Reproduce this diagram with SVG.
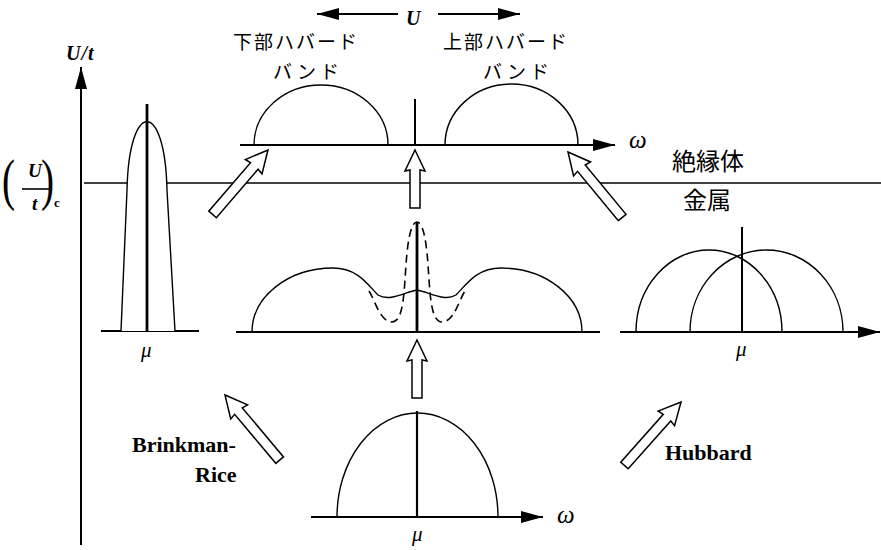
<svg xmlns="http://www.w3.org/2000/svg" width="881" height="550" viewBox="0 0 881 550">
<style>
.ln{fill:none;stroke:#000;stroke-width:1.4}
.base{fill:none;stroke:#000;stroke-width:2}
.thick{fill:none;stroke:#000;stroke-width:2.8}
.dash{fill:none;stroke:#000;stroke-width:1.6;stroke-dasharray:8 5}
.hol{fill:#fff;stroke:#000;stroke-width:1.5;stroke-linejoin:miter}
.it{font-family:"Liberation Serif",serif;font-style:italic;font-size:21px;fill:#000}
.om{font-family:"Liberation Serif",serif;font-style:italic;font-size:25px;fill:#000}
.jp{font-family:"Noto Sans CJK JP",sans-serif;fill:#000}
.rm{font-family:"Liberation Serif",serif;font-size:22px;font-weight:bold;fill:#000}
</style>
<defs>
<marker id="ah" viewBox="0 0 22 12" refX="22" refY="6" markerWidth="22" markerHeight="12" markerUnits="userSpaceOnUse" orient="auto"><path d="M0,0 L22,6 L0,12 z" fill="#000"/></marker>
<path id="arS" d="M0,0 L10,21 L5,20 L5,58 L-5,58 L-5,20 L-10,21 Z"/>
<path id="arL" d="M0,0 L11,22 L5,21 L5,85 L-5,85 L-5,21 L-11,22 Z"/>
</defs>
<rect width="881" height="550" fill="#fff"/>

<g id="axis">
<line class="base" x1="81" y1="545" x2="81" y2="67" marker-end="url(#ah)"/>
<text x="66" y="60" font-family="Liberation Serif,serif" font-style="italic" font-weight="bold" font-size="20" letter-spacing="1">U/t</text>
</g>

<g id="critical-line">
<line x1="84" y1="183" x2="881" y2="183" stroke="#000" stroke-width="1.5"/>
<text transform="translate(2,199) scale(0.7,1)" font-family="Liberation Serif,serif" font-size="56">(</text>
<text x="28" y="177" font-family="Liberation Serif,serif" font-style="italic" font-weight="bold" font-size="19">U</text>
<line x1="22" y1="189" x2="50" y2="189" stroke="#000" stroke-width="1.6"/>
<text x="32" y="210" font-family="Liberation Serif,serif" font-style="italic" font-weight="bold" font-size="19">t</text>
<text transform="translate(41,199) scale(0.7,1)" font-family="Liberation Serif,serif" font-size="56">)</text>
<text x="54" y="207" font-family="Liberation Serif,serif" font-size="13" font-weight="bold">c</text>
<text class="jp" x="672" y="170" font-size="24">絶縁体</text>
<text class="jp" x="683" y="209" font-size="24">金属</text>
</g>

<g id="dos-left">
<line class="base" x1="101" y1="331" x2="199" y2="331" stroke-width="2.5"/>
<path d="M121,331 L127,190 C129,99 165,99 167,190 L175,331" fill="#fff" stroke="#000" stroke-width="1.4"/>
<line class="thick" x1="147" y1="104" x2="147" y2="331"/>
<text class="it" x="141" y="357">μ</text>
</g>

<g id="dos-top">
<line class="base" x1="240" y1="145" x2="615" y2="145" marker-end="url(#ah)"/>
<path class="ln" d="M254,145 A67,60 0 0 1 388,145"/>
<path class="ln" d="M445,145 A66.5,61 0 0 1 578,145"/>
<line x1="415" y1="99" x2="415" y2="145" stroke="#000" stroke-width="2"/>
<text class="om" x="629" y="148">ω</text>
<line class="base" x1="398" y1="14" x2="317" y2="14" stroke-width="1.5" marker-end="url(#ah)"/>
<line class="base" x1="438" y1="14" x2="520" y2="14" stroke-width="1.5" marker-end="url(#ah)"/>
<text x="406" y="25" font-family="Liberation Serif,serif" font-style="italic" font-weight="bold" font-size="20">U</text>
<text class="jp" x="233" y="49" font-size="19" letter-spacing="2">下部ハバード</text>
<text class="jp" x="273" y="79" font-size="19" letter-spacing="4">バンド</text>
<text class="jp" x="443" y="49" font-size="19" letter-spacing="2">上部ハバード</text>
<text class="jp" x="483" y="79" font-size="19" letter-spacing="4">バンド</text>
</g>

<g id="dos-middle">
<line class="base" x1="236" y1="332" x2="600" y2="332"/>
<path class="ln" d="M252,332 C252,297 288,268 333,268 C358,268 368,285 378,295 C390,302 405,292 417,290 C429,292 444,302 456,295 C466,285 476,268 501,268 C546,268 582,297 582,332"/>
<path class="dash" d="M369,291 C375,300 380,322 392,322 C404,322 404,290 406,265 C408,235 412,222 417,222 C422,222 426,235 428,265 C430,290 430,322 442,322 C454,322 459,300 465,291"/>
<line class="thick" x1="417" y1="222" x2="417" y2="332"/>
</g>

<g id="dos-right">
<line class="base" x1="620" y1="332" x2="880" y2="332" marker-end="url(#ah)"/>
<path class="ln" d="M636,332 A73,82 0 0 1 782,332"/>
<path class="ln" d="M690,332 A76.5,82 0 0 1 843,332"/>
<line x1="742" y1="227" x2="742" y2="332" stroke="#000" stroke-width="2"/>
<text class="it" x="736" y="356">μ</text>
</g>

<g id="dos-bottom">
<line class="base" x1="311" y1="517" x2="543" y2="517" marker-end="url(#ah)"/>
<path class="ln" d="M337,517 A80.5,104 0 0 1 498,517"/>
<line x1="417" y1="411" x2="417" y2="517" stroke="#000" stroke-width="2.2"/>
<text class="it" x="412" y="541">μ</text>
<text class="om" x="557" y="523">ω</text>
</g>

<g id="labels">
<text class="rm" x="132" y="452">Brinkman-</text>
<text class="rm" x="195" y="482">Rice</text>
<text class="rm" x="665" y="460">Hubbard</text>
</g>

<g id="connectors">
<use href="#arL" class="hol" transform="translate(268,150) rotate(40.7)"/>
<use href="#arS" class="hol" transform="translate(415,150)"/>
<use href="#arL" class="hol" transform="translate(568,152) rotate(-39.6)"/>
<use href="#arS" class="hol" transform="translate(417,340)"/>
<use href="#arL" class="hol" transform="translate(225,395) rotate(-40)"/>
<use href="#arL" class="hol" transform="translate(681,402) rotate(41.7)"/>
</g>
</svg>
